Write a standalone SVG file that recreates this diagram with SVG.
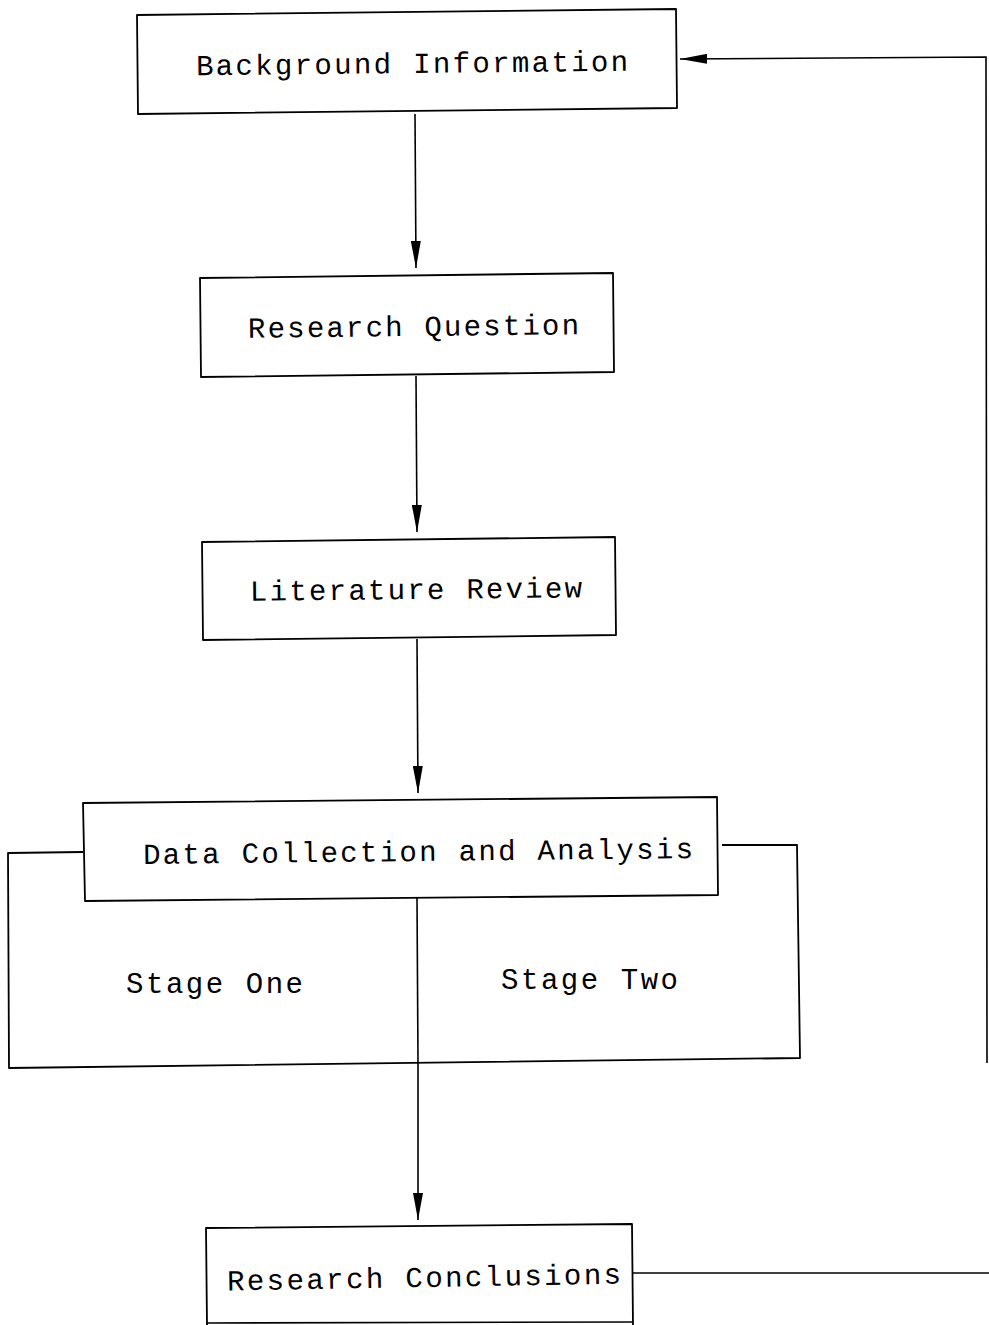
<svg xmlns="http://www.w3.org/2000/svg" width="989" height="1325" viewBox="0 0 989 1325">
<style>
.box{fill:none;stroke:#000;stroke-width:1.8;stroke-linejoin:round}
.ln{fill:none;stroke:#000;stroke-width:1.6}
.t{font-family:"Liberation Mono","Courier New",monospace;font-size:29px;fill:#000}
</style>
<defs>
<marker id="ah" markerWidth="28" markerHeight="10" refX="27" refY="5" orient="auto" markerUnits="userSpaceOnUse">
<path d="M0,0 L27,5 L0,10 Z" fill="#000"/>
</marker>
</defs>
<rect width="989" height="1325" fill="#fff"/>
<g id="connectors">
<line class="ln" x1="415" y1="114" x2="416" y2="268" marker-end="url(#ah)"/>
<line class="ln" x1="416" y1="376" x2="417" y2="532" marker-end="url(#ah)"/>
<line class="ln" x1="417" y1="639" x2="418" y2="793" marker-end="url(#ah)"/>
<line class="ln" x1="417" y1="898" x2="418" y2="1062"/>
<line class="ln" x1="418" y1="1062" x2="418" y2="1220" marker-end="url(#ah)"/>
<polyline class="ln" points="632,1273 989,1273"/>
<polyline class="ln" points="987,1063 986,57 680,59" marker-end="url(#ah)"/>
</g>
<g id="background-information">
<path class="box" d="M137,15 L676,9 L677,108 L138,114 Z"/>
<text class="t" x="196" y="73" textLength="432" lengthAdjust="spacing" transform="rotate(-0.6 412 62)">Background Information</text>
</g>
<g id="research-question">
<path class="box" d="M200,278 L613,273 L614,372 L201,377 Z"/>
<text class="t" x="248" y="336" textLength="331" lengthAdjust="spacing" transform="rotate(-0.6 413 326)">Research Question</text>
</g>
<g id="literature-review">
<path class="box" d="M202,542 L615,537 L616,635 L203,640 Z"/>
<text class="t" x="250" y="599" textLength="332" lengthAdjust="spacing" transform="rotate(-0.6 416 589)">Literature Review</text>
</g>
<g id="data-collection">
<path class="box" d="M83,803 L717,797 L718,895 L85,901 Z"/>
<text class="t" x="143" y="861" textLength="550" lengthAdjust="spacing" transform="rotate(-0.6 418 850)">Data Collection and Analysis</text>
</g>
<g id="stages">
<polyline class="box" points="83,852 8,853 9,1068 800,1058 797,845 722,845"/>
<text class="t" x="126" y="993" textLength="177" lengthAdjust="spacing">Stage One</text>
<text class="t" x="501" y="989" textLength="177" lengthAdjust="spacing">Stage Two</text>
</g>
<g id="research-conclusions">
<path class="box" d="M207,1325 L206,1228 L632,1224 L633,1325"/>
<line class="ln" x1="207" y1="1323" x2="633" y2="1322"/>
<text class="t" x="227" y="1287" textLength="394" lengthAdjust="spacing" transform="rotate(-1 424 1276)">Research Conclusions</text>
</g>
</svg>
